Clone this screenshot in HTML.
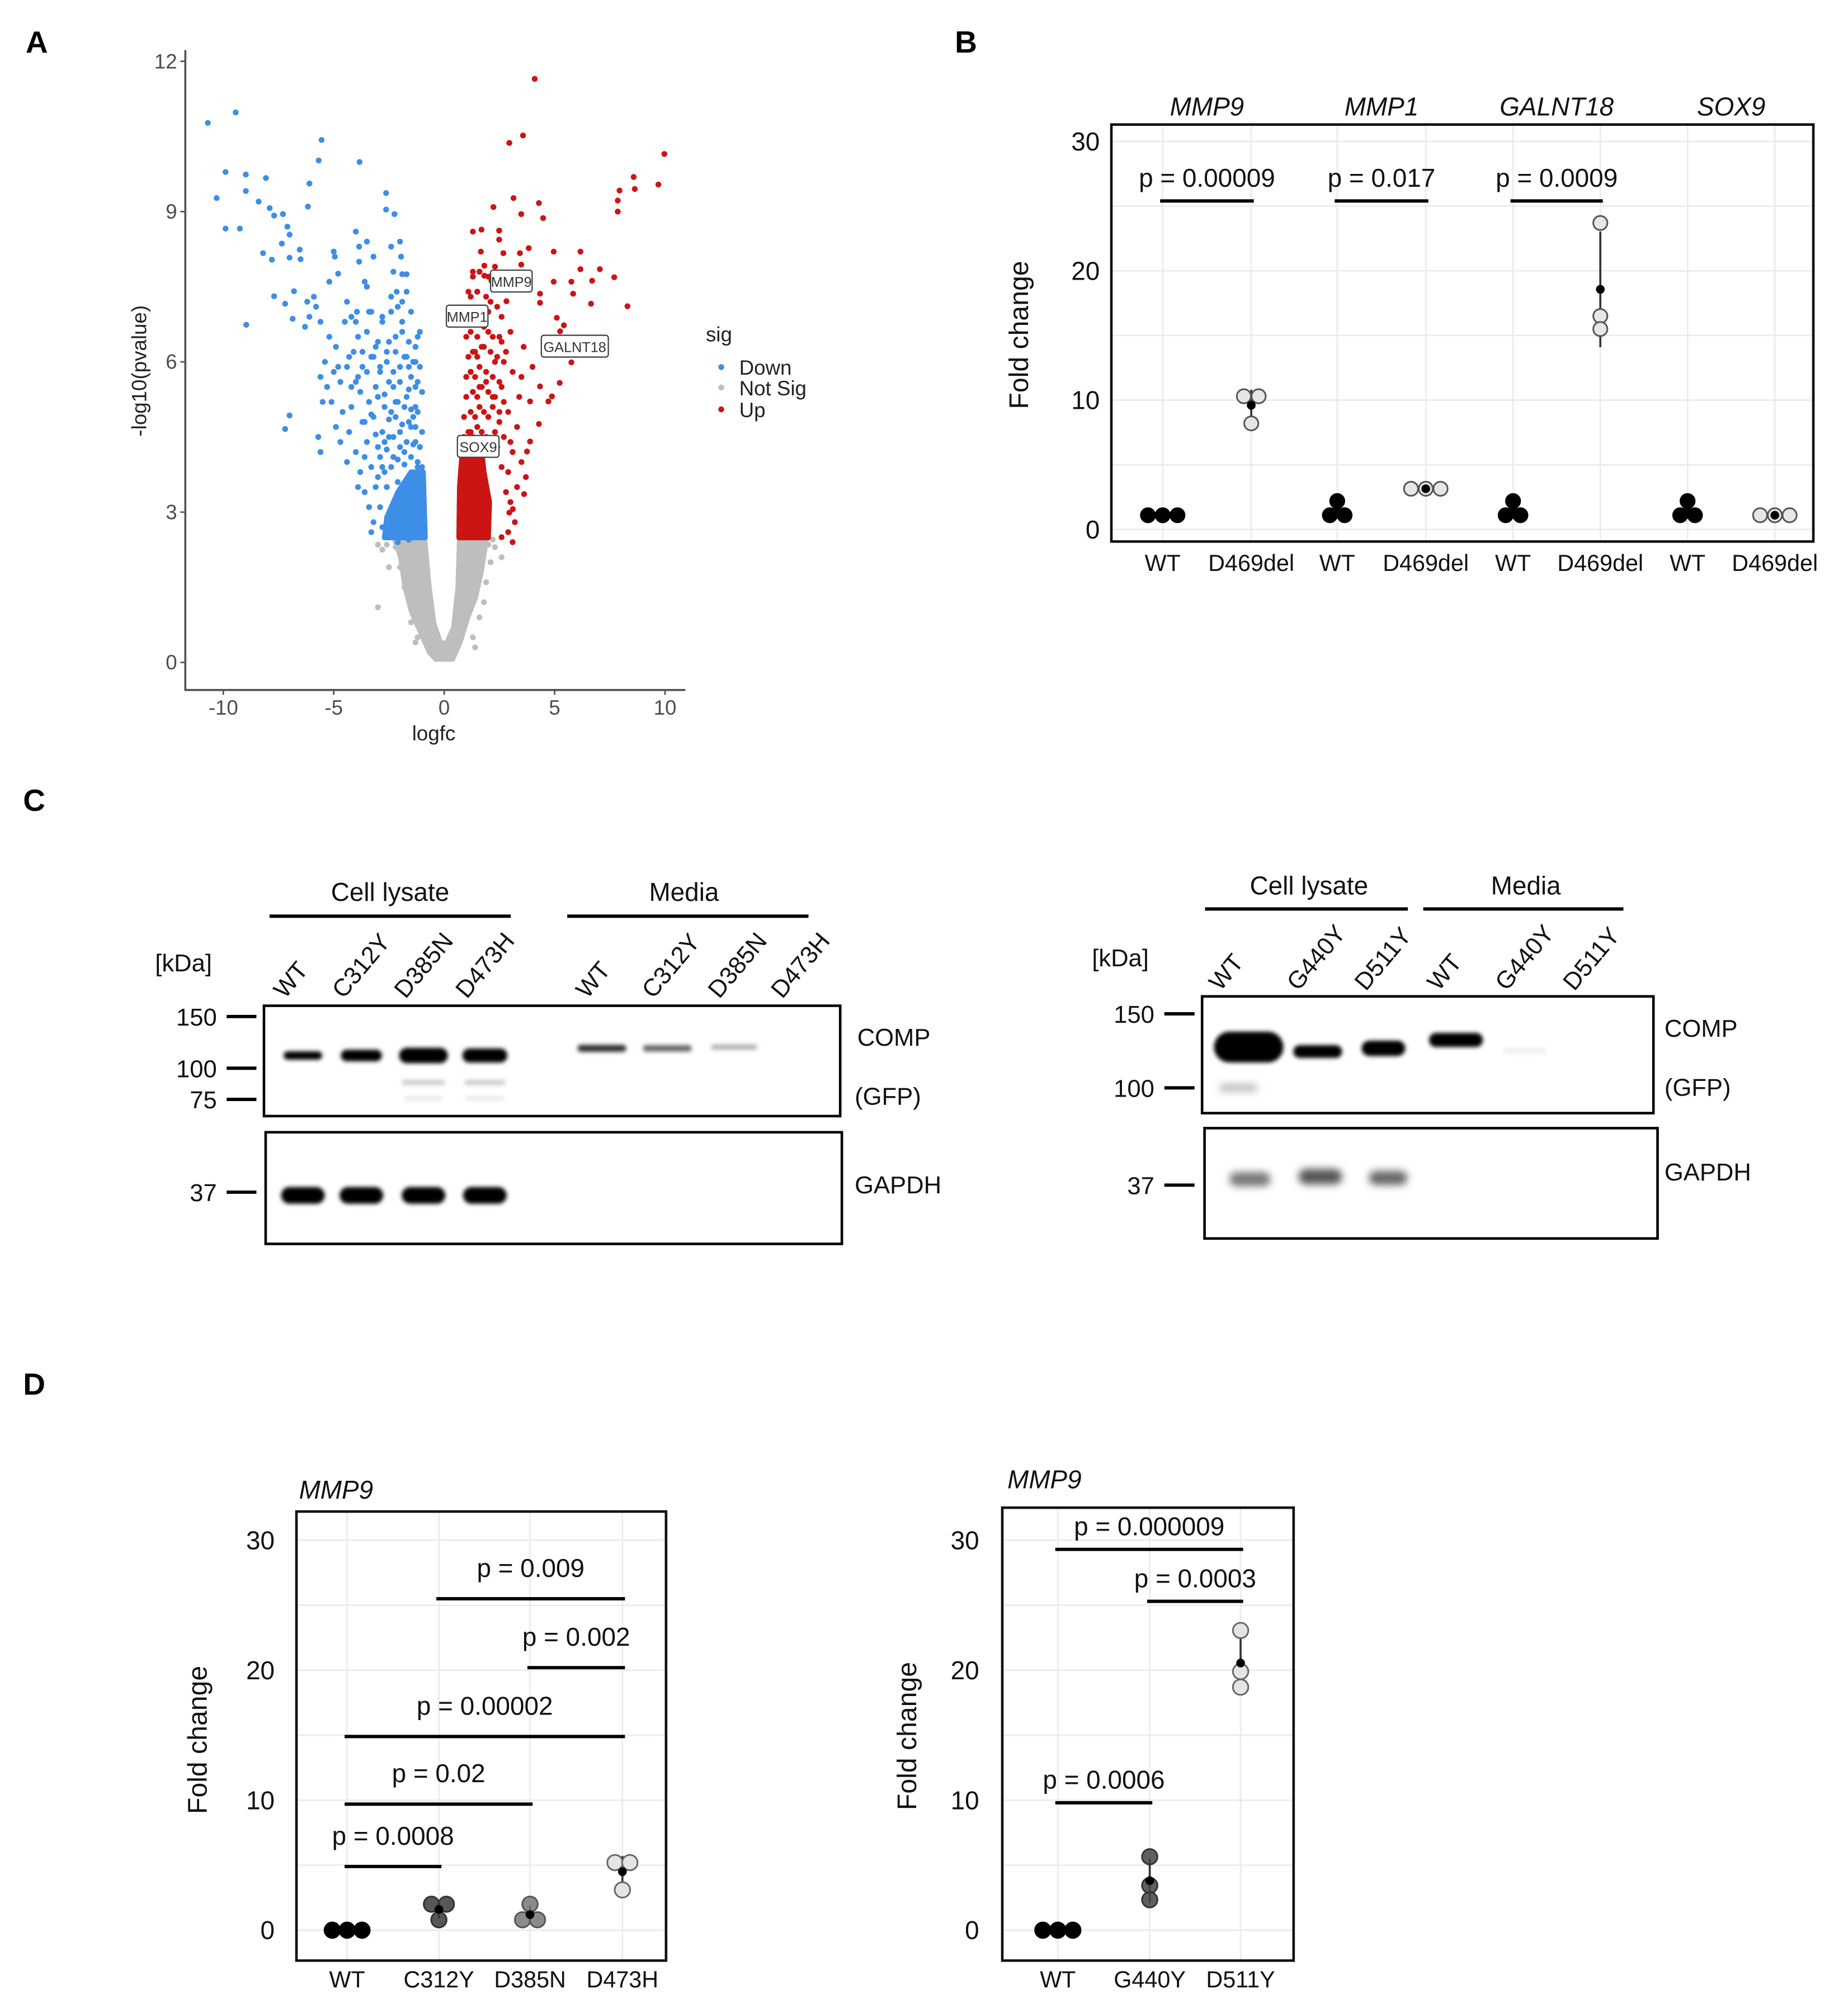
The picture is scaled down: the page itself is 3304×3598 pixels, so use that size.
<!DOCTYPE html>
<html><head><meta charset="utf-8"><style>
html,body{margin:0;padding:0;background:#fff;}
svg{display:block;font-family:"Liberation Sans",Arial,sans-serif;}
</style></head><body>
<svg id="fig" width="3304" height="3598" viewBox="0 0 1440 1568" xmlns="http://www.w3.org/2000/svg">
<defs>
<filter id="blur2" x="-50%" y="-100%" width="200%" height="300%"><feGaussianBlur stdDeviation="1.6"/></filter>
<filter id="blur4" x="-50%" y="-100%" width="200%" height="300%"><feGaussianBlur stdDeviation="3"/></filter>
</defs>
<rect width="1440" height="1568" fill="#fff"/>
<g font-weight="bold" font-size="24" fill="#000">
<text x="20" y="41">A</text>
<text x="744" y="41">B</text>
<text x="18" y="632">C</text>
<text x="18" y="1087">D</text>
</g>
<g id="volcano"></g>
<g id="panelB"></g>
<g id="blots"></g>
<g id="panelD1"></g>
<g id="panelD2"></g>
</svg>
<script>
// ---------- Panel A data ----------
const volXTicks = [-10, -5, 0, 5, 10];
const volYTicks = [0, 3, 6, 9, 12];
const blueX = [-10.7,-9.44,-9.9,-10.3,-9.9,-9.25,-8.98,-8.98,-8.4,-8.07,-7.9,-7.7,-7.3,-7.1,-7.0,-7.35,-7.0,-8.2,-7.8,-6.54,-6.5,-8.96,-7.7,-6.8,-7.2,-6.86,-7.0,-7.2,-6.2,-6.1,-5.8,-5.6,-6.3,-5.9,-5.55,-5.68,-6.1,-6.17,-3.83,-2.63,-2.63,-2.25,-4.0,-3.5,-3.85,-3.2,-3.85,-5.0,-4.95,-4.8,-5.2,-4.4,-3.6,-3.5,-3.95,-3.3,-2.4,-2.4,-2.15,-2.4,-2.0,-1.95,-2.3,-1.9,-1.7,-1.7,-1.9,-5.6,-5.7,-5.2,-4.9,-5.4,-5.0,-5.6,-5.3,-4.7,-4.4,-4.1,-3.9,-3.7,-3.5,-3.0,-2.8,-2.6,-2.2,-1.9,-1.6,-1.3,-1.5,-2.0,-2.5,-3.1,-3.4,-3.8,-4.2,-4.6,-5.1,-5.5,-4.9,-4.3,-3.7,-3.2,-2.7,-2.2,-1.7,-1.3,-1.5,-2.0,-2.5,-3.0,-3.5,-4.0,-4.4,-3.8,-3.3,-2.8,-2.3,-1.8,-1.3,-1.2,-1.6,-2.1,-2.6,-3.1,-3.6,-3.4,-2.9,-2.4,-1.9,-1.4,-3.2,-3.3,-2.8,-2.3,-1.8,-1.3,-1.2,-1.6,-2.1,-4.5,-4.2,-3.3,-2.9,-4.0,-2.3,-1.8,-3.6,-4.7,-3.9,-2.7,-1.1,-1.2,-1.4,-1.1,-1.3,-1.6,
 -1.0,-1.2,-1.5,-1.8,-2.1,-2.4,-2.7,-3.0,-1.1,-1.4,-1.7,-2.0,-2.3,-2.6,-2.9,-1.0,-1.3,-1.6,-1.9,-2.2,-2.5,-2.8,-3.1,-1.2,-1.5,-1.8,-2.1,-2.4,-1.0,-1.3,-1.6,-2.0,-2.3,-2.7,-3.0,-3.3,-3.6,-1.1,-1.4,-1.7,-2.2,-2.6,-2.9,-3.2,-3.5,-3.9,-4.2,-1.2,-1.9,-2.5,-3.1,-3.7,-4.3,-4.8,-1.5,-2.1,-2.8,-3.4,-4.0];
const blueY = [10.77,10.98,9.79,9.27,8.66,8.66,9.74,9.41,9.2,9.67,9.07,8.92,8.95,8.7,8.54,8.36,8.08,8.17,8.04,8.24,8.05,6.74,7.31,7.41,7.16,6.86,4.93,4.66,7.2,6.9,7.1,6.8,6.7,7.3,10.43,10.02,9.56,9.1,9.99,9.37,9.04,8.95,8.6,8.4,8.3,8.1,8.0,8.2,8.1,7.76,7.6,7.2,7.6,7.5,7.0,7.0,7.3,7.0,7.4,8.3,8.4,8.1,7.8,7.75,7.75,7.4,7.2,4.2,4.5,6.5,6.3,6.0,5.8,5.7,5.5,5.6,5.9,6.2,6.5,5.9,6.6,6.4,6.8,6.2,6.5,6.8,6.4,6.0,5.7,5.9,5.6,5.5,5.2,5.4,5.1,5.0,5.2,5.2,4.7,4.6,4.8,4.9,5.1,5.2,5.3,5.1,4.7,4.6,4.5,4.3,4.4,4.2,4.0,3.8,3.9,3.9,4.1,4.2,4.4,3.9,3.7,3.6,3.5,3.5,3.4,3.1,3.1,3.0,3.2,3.3,2.8,2.6,2.7,2.6,2.8,2.8,2.5,2.45,2.4,6.8,6.9,6.1,5.8,5.6,5.8,6.1,4.1,4.4,3.5,4.4,6.6,5.6,4.9,4.3,6.3,5.9,
 3.9,4.0,4.1,3.95,4.05,3.9,3.8,3.7,4.3,4.35,4.4,4.3,4.5,4.25,4.1,4.6,4.7,4.8,4.75,4.9,4.85,4.6,4.55,5.0,5.05,5.1,5.2,5.0,5.4,5.5,5.45,5.6,5.5,5.35,5.3,4.95,4.8,5.9,6.0,6.1,6.2,6.0,5.9,6.1,5.8,5.7,5.5,6.5,6.6,6.4,6.3,6.2,6.1,5.9,7.0,7.1,6.9,7.0,6.8];
const redX = [4.1,3.57,2.95,9.97,8.58,8.63,7.94,7.86,9.7,7.86,3.14,4.29,4.48,3.49,2.23,1.69,2.49,2.49,1.66,2.68,3.43,3.83,4.96,6.17,7.05,6.17,6.7,5.76,4.96,5.84,7.7,6.65,4.34,4.34,8.3,3.49,1.82,1.82,2.14,2.82,2.82,5.1,5.42,5.25,5.76,5.23,4.88,4.72,4.34,3.89,4.29,3.89,3.75,3.62,3.11,2.95,3.0,2.5,2.8,3.1,2.6,3.4,2.9,3.3,2.7,3.1,2.9,3.3,2.0,2.3,1.9,2.2,1.6,1.4,1.8,2.1,1.5,2.4,2.6,3.0,3.6,3.5,4.0,2.5,2.4,2.6,3.0,3.5,3.7,2.8,3.2,2.9,2.6,3.1,1.3,1.1,1.2,1.2,1.1,1.4,1.3,1.7,
 0.9,1.1,1.3,1.5,1.7,1.9,2.1,2.3,0.9,1.2,1.4,1.6,1.8,2.0,2.2,2.5,1.0,1.3,1.5,1.7,2.0,2.3,2.7,1.0,1.2,1.4,1.6,1.9,2.2,2.5,1.1,1.3,1.5,1.8,2.1,2.4,2.7,1.0,1.2,1.5,1.8,2.2,2.6,1.1,1.4,1.7,2.0,1.2,1.5,1.9,1.3,1.6,2.0,2.3];
const redY = [11.65,10.52,10.37,10.15,9.69,9.45,9.42,9.22,9.54,9.0,9.27,9.17,8.87,8.95,9.09,8.64,8.62,8.44,8.2,8.17,8.17,8.27,8.2,8.2,7.85,7.85,7.62,7.6,7.6,7.36,7.69,7.16,7.36,7.18,7.11,7.94,7.92,7.72,7.62,7.46,7.21,6.88,6.73,6.61,5.99,5.58,5.31,5.21,5.51,5.21,4.76,4.41,4.21,3.36,3.06,2.99,3.2,6.5,6.2,5.8,5.5,5.3,5.0,4.7,4.5,4.2,3.8,3.5,6.6,6.0,5.6,5.3,5.5,6.2,6.9,7.2,7.4,7.1,6.9,6.6,6.3,5.7,5.9,4.8,4.3,3.9,4.4,4.0,3.7,3.4,2.8,2.6,2.5,2.4,7.8,6.8,5.8,4.6,7.4,7.0,8.6,6.3,
 4.5,4.6,4.5,4.7,4.6,4.5,4.4,4.6,4.9,5.0,4.9,5.1,5.0,4.9,5.1,5.0,5.3,5.4,5.3,5.5,5.4,5.3,5.2,5.7,5.8,5.7,5.9,5.8,5.7,5.6,6.1,6.2,6.1,6.3,6.2,6.1,6.0,6.5,6.6,6.5,6.7,6.5,6.4,6.9,7.0,6.9,7.0,7.3,7.4,7.3,7.7,7.8,7.7,7.9];
const blueCoreX = [-0.86,-2.7,-2.6,-2.1,-1.5,-0.95];
const blueCoreY = [2.49,2.49,2.9,3.4,3.8,3.8];
const redCoreX = [0.67,2.0,2.05,1.8,1.7,0.85,0.7];
const redCoreY = [2.49,2.49,3.2,3.8,4.2,4.4,3.5];
const grayEnvX = [0.4,0.75,1.1,1.45,1.7,1.95,0.67,0.6,0.4,0.1,-0.15,-0.45,-0.65,-0.86,-2.3,-2.0,-1.8,-1.5,-1.1,-0.7,-0.4];
const grayEnvY = [0.05,0.4,0.9,1.3,1.8,2.49,2.49,1.5,0.7,0.4,0.4,0.8,1.5,2.49,2.49,2.1,1.5,1.0,0.6,0.2,0.05];
const grayX = [-2.6,-3.0,-2.8,2.0,2.3,2.6,-3.0,-1.8,1.9,1.8,1.6,-1.5,1.3,-1.2,-2.2,-2.0,2.1,-2.5,2.2,-1.3,1.4];
const grayY = [2.35,2.35,2.25,2.35,2.3,2.1,1.1,1.5,1.6,1.2,0.9,0.8,0.5,0.5,2.3,1.9,2.0,1.9,2.45,0.4,0.3];
const volLabels = ['MMP9','MMP1','GALNT18','SOX9'];
const volLabelX = [2.1, 0.1, 4.4, 0.6];
const volLabelY = [7.6, 6.9, 6.3, 4.3];

// ---------- Panel B data ----------
const bGenes = ['MMP9','MMP1','GALNT18','SOX9'];
const bCats = ['WT','D469del','WT','D469del','WT','D469del','WT','D469del'];
const bVals = [[1.1,1.1,1.1],[10.3,10.3,8.2],[1.1,1.1,2.2],[3.15,3.15,3.15],[1.1,1.1,2.2],[23.7,16.5,15.5],[1.1,1.1,2.2],[1.1,1.1,1.1]];
const bPLabels = ['p = 0.00009','p = 0.017','p = 0.0009'];
const bPFrom = [0,2,4];
const bPTo = [1,3,5];
const bPY = [25.4,25.4,25.4];
const bYTicks = [0,10,20,30];

// ---------- Panel D data ----------
const d1Cats = ['WT','C312Y','D385N','D473H'];
const d1Vals = [[0,0,0],[2.0,2.0,0.8],[2.0,0.8,0.8],[5.2,5.2,3.1]];
const d1PLabels = ['p = 0.009','p = 0.002','p = 0.00002','p = 0.02','p = 0.0008'];
const d1PFrom = [1,2,0,0,0];
const d1PTo = [3,3,3,2,1];
const d1PY = [25.5,20.2,14.9,9.7,4.9];
const d2Cats = ['WT','G440Y','D511Y'];
const d2Vals = [[0,0,0],[5.65,3.44,2.34],[23.06,19.9,18.7]];
const d2PLabels = ['p = 0.000009','p = 0.0003','p = 0.0006'];
const d2PFrom = [0,1,0];
const d2PTo = [2,2,1];
const d2PY = [29.3,25.3,9.8];
const dYTicks = [0,10,20,30];

const NS = 'http://www.w3.org/2000/svg';
function mk(tag, attrs, parent){const e=document.createElementNS(NS,tag);for(const k in attrs)e.setAttribute(k,attrs[k]);parent.appendChild(e);return e;}
function txt(parent, s, attrs){const e=mk('text',attrs,parent);e.textContent=s;return e;}

// ---------- Panel A ----------
(function(){
  const g=document.getElementById('volcano');
  const xs=v=>346.1+17.21*v, ys=v=>516.2-39.04*v;
  const ax=mk('path',{d:'M144.4 39 V537.7 H534','fill':'none',stroke:'#555','stroke-width':1.6},g);
  
  
  volYTicks.forEach(v=>{
    const t=mk('line',{x1:140.5,x2:144.4,y1:ys(v),y2:ys(v),stroke:'#555','stroke-width':1.2},g);
    
    
    const l=txt(g,String(v),{x:138,y:ys(v)+5.5,'text-anchor':'end','font-size':16,fill:'#4d4d4d'});
    
    
  });
  volXTicks.forEach(v=>{
    const t=mk('line',{x1:xs(v),x2:xs(v),y1:537.7,y2:541.5,stroke:'#555','stroke-width':1.2},g);
    
    
    const l=txt(g,String(v),{x:xs(v),y:557,'text-anchor':'middle','font-size':16,fill:'#4d4d4d'});
    
    
  });
  const xt=txt(g,'logfc',{x:338,y:577,'text-anchor':'middle','font-size':16,fill:'#222'});
  
  
  const yt=txt(g,'-log10(pvalue)',{x:0,y:0,'text-anchor':'middle','font-size':16,fill:'#222',transform:'translate(114,289) rotate(-90)'});
  
  
  let d='';grayEnvX.forEach((x,i)=>{d+=(i?'L':'M')+xs(x).toFixed(1)+' '+ys(grayEnvY[i]).toFixed(1);});
  const ge=mk('path',{d:d+'Z',fill:'#bebebe',stroke:'#bebebe','stroke-width':3,'stroke-linejoin':'round'},g);
  
  
  grayX.forEach((x,i)=>{const c=mk('circle',{cx:xs(x),cy:ys(grayY[i]),r:2.3,fill:'#bebebe'},g);
    
    });
  function core(X,Y,col,name){let p='';X.forEach((x,i)=>{p+=(i?'L':'M')+xs(x).toFixed(1)+' '+ys(Y[i]).toFixed(1);});
    const e=mk('path',{d:p+'Z',fill:col,stroke:col,'stroke-width':4,'stroke-linejoin':'round'},g);
    
    }
  core(blueCoreX,blueCoreY,'#3d8ee6','down-points-dense');
  core(redCoreX,redCoreY,'#cc1414','up-points-dense');
  blueX.forEach((x,i)=>{const c=mk('circle',{cx:xs(x),cy:ys(blueY[i]),r:2.3,fill:'#3d8ee6'},g);
    
    });
  redX.forEach((x,i)=>{const c=mk('circle',{cx:xs(x),cy:ys(redY[i]),r:2.3,fill:'#cc1414'},g);
    
    });
  volLabels.forEach((s,i)=>{
    const w=s.length*6.6+6, x=xs(volLabelX[i]), y=ys(volLabelY[i]);
    const r=mk('rect',{x:x,y:y-9,width:w,height:17,rx:2,fill:'#fff',stroke:'#444','stroke-width':1},g);
    
    
    const t=txt(g,s,{x:x+w/2,y:y+4,'text-anchor':'middle','font-size':11,fill:'#333'});
    
    
  });
  const lg=txt(g,'sig',{x:550,y:266,'font-size':16,fill:'#222'});
  
  
  [['Down','#3d8ee6',287],['Not Sig','#bebebe',303],['Up','#cc1414',320]].forEach(a=>{
    const c=mk('circle',{cx:562,cy:a[2]-1,r:2.3,fill:a[1]},g);
    
    
    const t=txt(g,a[0],{x:576,y:a[2]+5,'font-size':16,fill:'#222'});
    
    
  });
})();

// ---------- generic dot plot ----------
function dotplot(g, opt){
  const ys=v=>opt.y0-opt.k*v;
  for(let v=0;v<=30;v+=5){const l=mk('line',{x1:opt.L+1,x2:opt.R-1,y1:ys(v),y2:ys(v),stroke:'#ebebeb','stroke-width':1.2},g);
    
    }
  opt.cx.forEach(x=>{const l=mk('line',{x1:x,x2:x,y1:opt.T+1,y2:opt.B-1,stroke:'#ebebeb','stroke-width':1.2},g);
    
    });
  const box=mk('rect',{x:opt.L,y:opt.T,width:opt.R-opt.L,height:opt.B-opt.T,fill:'none',stroke:'#111','stroke-width':2},g);
  
  
  opt.yTicks.forEach(v=>{const t=txt(g,String(v),{x:opt.tickX,y:ys(v)+7,'text-anchor':'end','font-size':20,fill:'#111'});
    
    });
  opt.cats.forEach((c,i)=>{const t=txt(g,c,{x:opt.cx[i],y:opt.labY,'text-anchor':'middle','font-size':opt.catFs,fill:'#111'});
    
    });
  const yt=txt(g,'Fold change',{x:0,y:0,'text-anchor':'middle','font-size':21,fill:'#111',transform:'translate('+opt.ytX+','+opt.ytY+') rotate(-90)'});
  
  
  opt.pL.forEach((s,i)=>{
    const x1=opt.cx[opt.pF[i]]-2, x2=opt.cx[opt.pT[i]]+2, y=ys(opt.pY[i]);
    const l=mk('line',{x1:x1,x2:x2,y1:y,y2:y,stroke:'#000','stroke-width':2.6},g);
    
    
    const t=txt(g,s,{x:(x1+x2)/2,y:y-opt.pGap,'text-anchor':'middle','font-size':20,fill:'#111'});
    
    
  });
  opt.vals.forEach((arr,i)=>{
    const n=arr.length, m=arr.reduce((a,b)=>a+b,0)/n;
    const sd=Math.sqrt(arr.reduce((a,b)=>a+(b-m)*(b-m),0)/(n-1));
    if(sd>0.3){const e=mk('line',{x1:opt.cx[i],x2:opt.cx[i],y1:ys(m-sd),y2:ys(m+sd),stroke:'#333','stroke-width':1.6},g);
      
      }
    const used=new Array(n).fill(false);
    for(let a=0;a<n;a++){ if(used[a])continue;
      const grp=[a];used[a]=true;
      for(let b=a+1;b<n;b++){ if(!used[b] && Math.abs(arr[b]-arr[a])*opt.k<opt.r*1.2){grp.push(b);used[b]=true;} }
      grp.forEach((idx,j)=>{
        const off=(j-(grp.length-1)/2)*opt.sp;
        const c=mk('circle',{cx:opt.cx[i]+off,cy:ys(arr[idx]),r:opt.r,fill:opt.fill[i],'fill-opacity':opt.op[i],stroke:opt.stroke[i],'stroke-width':1.3},g);
        
        
      });
    }
    const md=mk('circle',{cx:opt.cx[i],cy:ys(m),r:3.4,fill:'#000'},g);
    
    
  });
}

// ---------- Panel B ----------
(function(){
  const g=document.getElementById('panelB');
  const cx=[906,975,1042,1111,1179,1247,1315,1383];
  dotplot(g,{L:866,R:1413,T:97,B:422,y0:412.6,k:10.08,cx:cx,cats:bCats,vals:bVals,yTicks:bYTicks,
    tickX:857,labY:445,catFs:18,ytX:801,ytY:261,pL:bPLabels,pF:bPFrom,pT:bPTo,pY:bPY,pGap:11,r:5.5,sp:11.5,
    fill:['#000','#e6e6e6','#000','#e6e6e6','#000','#e6e6e6','#000','#e6e6e6'],
    op:[1,1,1,1,1,1,1,1],stroke:['#000','#555','#000','#555','#000','#555','#000','#555']});
  bGenes.forEach((s,i)=>{const t=txt(g,s,{x:(cx[2*i]+cx[2*i+1])/2,y:90,'text-anchor':'middle','font-size':20,'font-style':'italic',fill:'#111'});
    
    });
})();

// ---------- Panel D ----------
(function(){
  const g=document.getElementById('panelD1');
  dotplot(g,{L:231,R:519,T:1178,B:1528,y0:1504.3,k:10.13,cx:[270.5,342,413,485],cats:d1Cats,vals:d1Vals,yTicks:dYTicks,
    tickX:214,labY:1549,catFs:18,ytX:161,ytY:1356,pL:d1PLabels,pF:d1PFrom,pT:d1PTo,pY:d1PY,pGap:17,r:6,sp:11.6,
    fill:['#000','#3a3a3a','#777','#e4e4e4'],op:[1,0.85,0.85,1],stroke:['#000','#333','#555','#666']});
  const t=txt(g,'MMP9',{x:233,y:1168,'font-size':20,'font-style':'italic',fill:'#111'});
  
  
  const g2=document.getElementById('panelD2');
  dotplot(g2,{L:781,R:1008,T:1175,B:1528,y0:1504.3,k:10.13,cx:[824.3,895.9,966.7],cats:d2Cats,vals:d2Vals,yTicks:dYTicks,
    tickX:763,labY:1549,catFs:18,ytX:714,ytY:1353,pL:d2PLabels,pF:d2PFrom,pT:d2PTo,pY:d2PY,pGap:11,r:6,sp:11.7,
    fill:['#000','#444','#e4e4e4'],op:[1,0.85,1],stroke:['#000','#333','#666']});
  const t2=txt(g2,'MMP9',{x:785,y:1160,'font-size':20,'font-style':'italic',fill:'#111'});
  
  
})();

// ---------- Panel C blots ----------
(function(){
  const g=document.getElementById('blots');
  function T(s,x,y,fs,name,extra){const a={x:x,y:y,'font-size':fs,fill:'#111'};for(const k in extra)a[k]=extra[k];const e=txt(g,s,a);
    
    return e;}
  function L(x1,y1,x2,y2,w,name){const e=mk('line',{x1:x1,y1:y1,x2:x2,y2:y2,stroke:'#000','stroke-width':w},g);
    
    }
  function R(x,y,w,h,name){const e=mk('rect',{x:x,y:y,width:w,height:h,fill:'#fff',stroke:'#000','stroke-width':2},g);
    
    }
  function band(cx,cy,w,h,col,f){const e=mk('rect',{x:cx-w/2,y:cy-h/2,width:w,height:h,rx:h/2,fill:col,filter:f||'url(#blur2)'},g);
    
    }
  T('Cell lysate',304,702,20,'group-label-cell-lysate',{'text-anchor':'middle'});
  L(210,714,398,714,2.6,'group-bracket');
  T('Media',533,702,20,'group-label-media',{'text-anchor':'middle'});
  L(442,714,630,714,2.6,'group-bracket');
  T('[kDa]',143,757,19,'kda-label',{'text-anchor':'middle'});
  [['WT',236],['C312Y',281.6],['D385N',330],['D473H',377.8],['WT',471.6],['C312Y',523],['D385N',574.5],['D473H',623.6]].forEach(a=>{
    T(a[0],a[1]-14,779,19,'lane-label',{transform:'rotate(-50 '+(a[1]-14)+' 779)'});});
  R(205.7,783.8,449,86,'comp-blot-left'); R(207,882.4,449,87,'gapdh-blot-left');
  [['150',792.2],['100',832.5],['75',856.8],['37',929.1]].forEach(a=>{T(a[0],169,a[1]+7,19,'marker-label',{'text-anchor':'end'});L(176.6,a[1],199.8,a[1],2.6,'marker-tick');});
  T('COMP',668,815,19,'comp-label'); T('(GFP)',666,861,19,'gfp-label'); T('GAPDH',666,930,19,'gapdh-label');
  band(236,822.6,30,6.5,'#000'); band(281.6,822.6,32,9,'#000'); band(330,822.6,38,12,'#000'); band(377.8,822.6,35,11,'#000');
  band(330,843.6,34,4,'#ccc'); band(377.8,843.6,32,4,'#ccc'); band(330,856,30,3,'#e4e4e4'); band(377.8,856,30,3,'#e4e4e4');
  band(469,817,38,5.5,'#333'); band(520,817,38,5,'#666'); band(572,816,36,4,'#b0b0b0');
  [236,281.6,330,377.8].forEach(x=>band(x,931.6,34,13,'#000'));
  T('Cell lysate',1020,697,20,'group-label-cell-lysate',{'text-anchor':'middle'});
  L(939,708.4,1097,708.4,2.6,'group-bracket');
  T('Media',1189,697,20,'group-label-media',{'text-anchor':'middle'});
  L(1109,708.4,1265,708.4,2.6,'group-bracket');
  T('[kDa]',873,753,19,'kda-label',{'text-anchor':'middle'});
  [['WT',964.9],['G440Y',1025.5],['D511Y',1078.3],['WT',1135],['G440Y',1187.9],['D511Y',1240.7]].forEach(a=>{
    T(a[0],a[1]-14,773,19,'lane-label',{transform:'rotate(-50 '+(a[1]-14)+' 773)'});});
  R(936.7,776.5,351.7,91,'comp-blot-right'); R(938.6,879.2,353,86,'gapdh-blot-right');
  [['150',790.1],['100',847.8],['37',923.6]].forEach(a=>{T(a[0],899.5,a[1]+7,19,'marker-label',{'text-anchor':'end'});L(907.3,a[1],930.8,a[1],2.6,'marker-tick');});
  T('COMP',1297,808,19,'comp-label'); T('(GFP)',1297,854,19,'gfp-label'); T('GAPDH',1297,920,19,'gapdh-label');
  band(973,816,54,24,'#000'); band(1026.8,819.5,38,10,'#000'); band(1078,817,34,12,'#000');
  band(1134.5,810.5,42,11,'#000'); band(1188,819,34,4,'#eee');
  band(965,847.8,30,6,'#bbb','url(#blur4)');
  band(974,919,32,11,'#777','url(#blur4)'); band(1028.8,917,34,12,'#555','url(#blur4)'); band(1081.6,918,30,11,'#666','url(#blur4)');
})();
</script>
</body></html>
